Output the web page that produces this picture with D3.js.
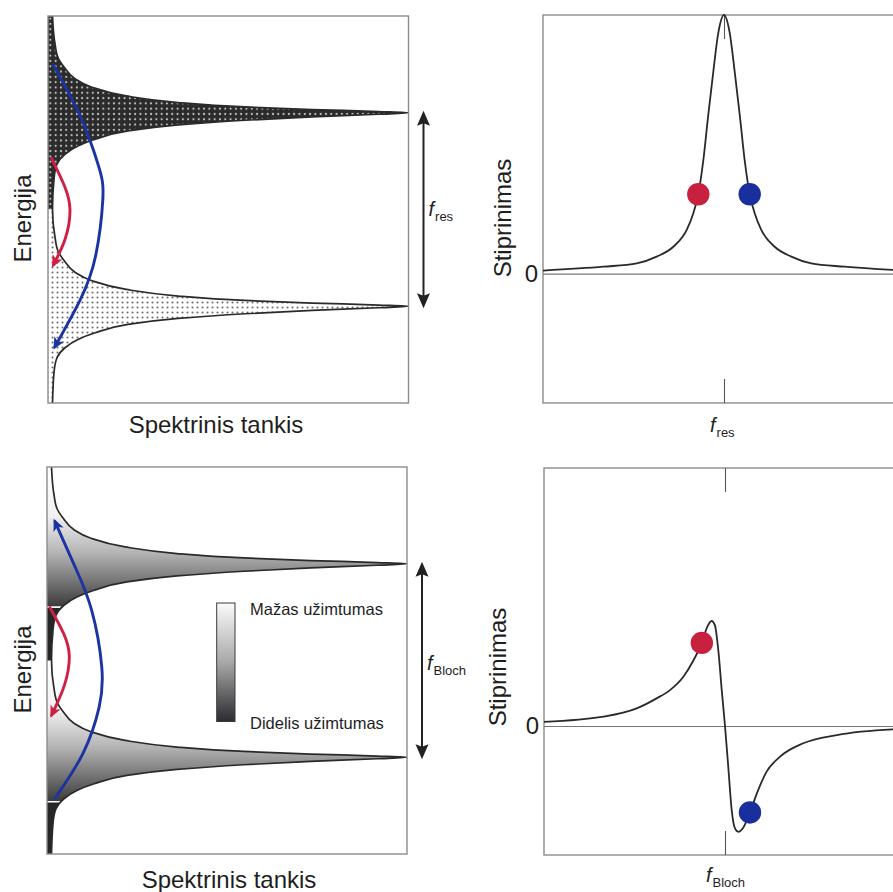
<!DOCTYPE html>
<html>
<head>
<meta charset="utf-8">
<script src="https://cdn.jsdelivr.net/npm/d3@7"></script>
<style>
  html, body { margin: 0; background: #fff; }
  svg { display: block; font-family: "Liberation Sans", Arial, Helvetica, sans-serif; }
</style>
</head>
<body>
<svg id="chart" width="893" height="892"></svg>
<script>
// ---------- data ----------
// Energy axis of the density-of-states panels: 0–100 (arbitrary units)
const bandCentres = [25, 75];
// One band of the density of states: energy offset from the band centre and relative density
const profileOffset  = [-25.0, -16.8, -13.31, -10.72, -8.58, -6.85, -4.70, -3.15, -1.94, -1.09, -0.39, 0,
                        0.31, 0.83, 1.50, 2.64, 4.34, 6.59, 8.79, 11.89, 14.21, 18.09, 25.0];
const profileDensity = [0.0125, 0.017, 0.025, 0.047, 0.083, 0.131, 0.222, 0.361, 0.547, 0.733, 0.917, 1.0,
                        0.917, 0.733, 0.547, 0.361, 0.217, 0.122, 0.075, 0.044, 0.028, 0.019, 0.0125];

// Occupation of the Bloch bands: top of each shaded range and the occupation edge below it
const occupationTop  = [50, 100];
const occupationEdge = [13.5, 63.8];
const occupationStops = [[0, "#ffffff"], [0.35, "#f1f1f1"], [0.62, "#b2b2b2"], [0.85, "#6a6a6a"], [1, "#3a3a3a"]];
const legendStops = [[0, "#fbfbfb"], [0.5, "#a8a8a8"], [1, "#2b2b30"]];

// Transitions drawn as curved arrows (relative density, energy)
const resRedDensity  = [0.010, 0.046, 0.061, 0.048, 0.015];
const resRedEnergy   = [63.2, 56.0, 49.9, 42.5, 35.7];
const resBlueDensity = [0.015, 0.090, 0.141, 0.152, 0.132, 0.089, 0.019];
const resBlueEnergy  = [87.3, 74.0, 61.0, 52.5, 38.0, 26.6, 14.5];
const blochRedDensity  = [0.008, 0.046, 0.062, 0.048, 0.013];
const blochRedEnergy   = [63.7, 57.0, 51.0, 43.5, 35.9];
const blochBlueDensity = [0.022, 0.100, 0.145, 0.152, 0.124, 0.078, 0.022];
const blochBlueEnergy  = [14.4, 26.0, 38.0, 48.5, 63.0, 74.2, 85.9];

// Gain spectra: detuning from the transition frequency (arbitrary units) and gain
const detuningRes = [-50, -33.3, -24.1, -18.6, -14.0, -10.3, -8.5, -7.1, -5.7, -4.4, -3.0, -1.6, 0,
                     1.6, 3.0, 4.4, 5.7, 7.1, 8.5, 10.3, 14.0, 18.6, 24.1, 33.3, 50];
const gainRes = [0.012, 0.027, 0.040, 0.066, 0.104, 0.169, 0.233, 0.307, 0.44, 0.607, 0.775, 0.929, 1.0,
                 0.929, 0.775, 0.607, 0.44, 0.307, 0.233, 0.169, 0.104, 0.066, 0.040, 0.027, 0.012];
const detuningBloch = [-50, -33.6, -24.4, -18.9, -15.2, -11.5, -8.7, -6.4, -4.9, -3.7, -2.8, -1.85, -0.9, 0,
                       0.9, 1.85, 2.76, 3.7, 4.9, 6.9, 8.8, 11.5, 15.2, 21.6, 30.9, 46.4, 50];
const gainBloch = [0.016, 0.036, 0.068, 0.107, 0.139, 0.191, 0.255, 0.322, 0.384, 0.407, 0.391, 0.294, 0.139, 0,
                   -0.158, -0.326, -0.397, -0.41, -0.397, -0.335, -0.261, -0.177, -0.119, -0.067, -0.035, -0.013, -0.011];
// Gain seen by the two transitions (red, blue)
const resDotDetuning = [-7.1, 7.1];
const resDotGain = [0.307, 0.307];
const blochDotDetuning = [-6.4, 6.9];
const blochDotGain = [0.322, -0.335];

// Text
const densityTitle = "Spektrinis tankis";
const energyTitle = "Energija";
const gainTitle = "Stiprinimas";
const legendLabels = ["Mažas užimtumas", "Didelis užimtumas"];

// ---------- styles ----------
const RED = "#cf1f45", BLUE = "#1b33a3";
const DOT_RED = "#c8203f", DOT_BLUE = "#1a2f9e";
const INK = "#1e1e1e", CURVE = "#2a2a2a", FRAME = "#8c8c8c";

const svg = d3.select("#chart");
const defs = svg.append("defs");

// arrowheads
function addMarker(id, color, len, half, notch) {
  defs.append("marker")
    .attr("id", id)
    .attr("markerUnits", "userSpaceOnUse")
    .attr("viewBox", `${-len - 2} ${-half - 1} ${len + 6} ${2 * half + 2}`)
    .attr("markerWidth", len + 6).attr("markerHeight", 2 * half + 2)
    .attr("refX", 0).attr("refY", 0)
    .attr("orient", "auto-start-reverse")
    .append("path")
    .attr("d", `M3,0 L${-len + 3},${-half} L${-len + 3 + notch},0 L${-len + 3},${half}Z`)
    .attr("fill", color);
}
addMarker("headBlack", "#222", 15, 6.5, 2.5);
addMarker("headRed", RED, 12, 5.5, 3);
addMarker("headBlue", BLUE, 12, 5.5, 3);

// dot textures for the density-of-states fills
const pDark = defs.append("pattern").attr("id", "dotsDark")
  .attr("patternUnits", "userSpaceOnUse").attr("width", 5.3).attr("height", 5.3);
pDark.append("rect").attr("width", 5.3).attr("height", 5.3).attr("fill", "#2b2b2b");
pDark.append("circle").attr("cx", 2.65).attr("cy", 2.65).attr("r", 1.05).attr("fill", "#c2c2c2");

const pLight = defs.append("pattern").attr("id", "dotsLight")
  .attr("patternUnits", "userSpaceOnUse").attr("width", 5).attr("height", 5);
pLight.append("rect").attr("width", 5).attr("height", 5).attr("fill", "#ffffff");
pLight.append("circle").attr("cx", 2.5).attr("cy", 2.5).attr("r", 1.05).attr("fill", "#6e6e6e");

// density of states built from the band profile
const dos = [];
bandCentres.forEach((c, i) => profileOffset.forEach((o, j) => {
  if (i > 0 && j === 0) return;
  dos.push({ E: c + o, d: profileDensity[j] });
}));
dos.sort((a, b) => b.E - a.E);

const zipPts = (ds, es) => ds.map((d, i) => ({ d, E: es[i] }));

let clipCount = 0;
function clipRange(y, eLow, eHigh) {
  const id = "clip" + (clipCount++);
  defs.append("clipPath").attr("id", id).append("rect")
    .attr("x", 0).attr("width", 893)
    .attr("y", y(eHigh)).attr("height", y(eLow) - y(eHigh));
  return `url(#${id})`;
}

function titleText(g, txt, x, y, rotate) {
  g.append("text")
    .attr("transform", `translate(${x},${y})` + (rotate ? " rotate(-90)" : ""))
    .attr("text-anchor", "middle")
    .attr("font-size", 24).attr("fill", INK)
    .text(txt);
}

function fLabel(g, x, y, sub) {
  const t = g.append("text").attr("fill", INK);
  t.append("tspan").attr("x", x).attr("y", y)
    .attr("font-style", "italic").attr("font-size", 20).text("f");
  t.append("tspan").attr("dx", 1).attr("dy", 5)
    .attr("font-size", 13).text(sub);
}

// ---------- density-of-states panels ----------
function dosPanel(cfg) {
  const g = svg.append("g");
  const x = d3.scaleLinear([0, 1], [cfg.left, cfg.right]);
  const y = d3.scaleLinear([0, 100], [cfg.bottom, cfg.top]);

  const area = d3.area().curve(d3.curveMonotoneY)
    .x0(x(0)).x1(d => x(d.d)).y(d => y(d.E));
  const line = d3.line().curve(d3.curveMonotoneY)
    .x(d => x(d.d)).y(d => y(d.E));

  cfg.fill(g, x, y, area);

  g.append("path").attr("d", line(dos))
    .attr("fill", "none").attr("stroke", CURVE).attr("stroke-width", 1.7);

  g.append("rect")
    .attr("x", cfg.left).attr("y", cfg.top)
    .attr("width", cfg.right - cfg.left).attr("height", cfg.bottom - cfg.top)
    .attr("fill", "none").attr("stroke", FRAME).attr("stroke-width", 1.4);

  // transitions
  const arc = d3.line().curve(d3.curveNatural)
    .x(d => x(d.d)).y(d => y(d.E));
  g.append("path").attr("d", arc(cfg.red))
    .attr("fill", "none").attr("stroke", RED).attr("stroke-width", 2.9)
    .attr("stroke-linecap", "round")
    .attr("marker-end", "url(#headRed)");
  g.append("path").attr("d", arc(cfg.blue))
    .attr("fill", "none").attr("stroke", BLUE).attr("stroke-width", 2.9)
    .attr("stroke-linecap", "round")
    .attr("marker-end", "url(#headBlue)");

  // splitting between the two bands
  const ax = cfg.right + 15;
  g.append("line")
    .attr("x1", ax).attr("x2", ax)
    .attr("y1", y(bandCentres[1]) + 1).attr("y2", y(bandCentres[0]) - 1)
    .attr("stroke", "#222").attr("stroke-width", 2)
    .attr("marker-start", "url(#headBlack)").attr("marker-end", "url(#headBlack)");
  fLabel(g, ax + 5, y(50) + cfg.fDy, cfg.fSub);

  titleText(g, densityTitle, cfg.xTitleX, cfg.xTitleY, false);
  titleText(g, energyTitle, 31, (cfg.top + cfg.bottom) / 2 + 9, true);
  return { g, x, y, area };
}

// resonant tunnelling: upper band filled, lower band nearly empty
dosPanel({
  left: 48, right: 408.5, top: 16, bottom: 403,
  fSub: "res", fDy: 6.5,
  xTitleX: 216, xTitleY: 433,
  red: zipPts(resRedDensity, resRedEnergy),
  blue: zipPts(resBlueDensity, resBlueEnergy),
  fill(g, x, y, area) {
    g.append("path").attr("d", area(dos)).attr("fill", "url(#dotsDark)")
      .attr("clip-path", clipRange(y, 50, 100));
    g.append("path").attr("d", area(dos)).attr("fill", "url(#dotsLight)")
      .attr("clip-path", clipRange(y, 0, 50));
  }
});

// Bloch oscillation: identical occupation in every band
const lower = dosPanel({
  left: 47, right: 407, top: 467, bottom: 854,
  fSub: "Bloch", fDy: 9,
  xTitleX: 229, xTitleY: 888,
  red: zipPts(blochRedDensity, blochRedEnergy),
  blue: zipPts(blochBlueDensity, blochBlueEnergy),
  fill(g, x, y, area) {
    const shapeId = "dosShape";
    defs.append("clipPath").attr("id", shapeId).append("path").attr("d", area(dos));
    occupationTop.forEach((top, i) => {
      const edge = occupationEdge[i];
      const gid = "occ" + i;
      const grad = defs.append("linearGradient").attr("id", gid)
        .attr("gradientUnits", "userSpaceOnUse")
        .attr("x1", 0).attr("x2", 0).attr("y1", y(top)).attr("y2", y(edge));
      occupationStops.forEach(s => grad.append("stop").attr("offset", s[0]).attr("stop-color", s[1]));
      g.append("path").attr("d", area(dos)).attr("fill", `url(#${gid})`)
        .attr("clip-path", clipRange(y, edge, top));
      const below = i === 0 ? 0 : occupationTop[i - 1];
      g.append("path").attr("d", area(dos)).attr("fill", "#262626")
        .attr("clip-path", clipRange(y, below, edge));
      g.append("g").attr("clip-path", `url(#${shapeId})`)
        .append("line")
        .attr("x1", x(0)).attr("x2", x(0.2)).attr("y1", y(edge)).attr("y2", y(edge))
        .attr("stroke", "#fff").attr("stroke-width", 1.6);
    });
  }
});

// occupation legend
{
  const g = lower.g;
  const lg = defs.append("linearGradient").attr("id", "legendGrad")
    .attr("x1", 0).attr("x2", 0).attr("y1", 0).attr("y2", 1);
  legendStops.forEach(s => lg.append("stop").attr("offset", s[0]).attr("stop-color", s[1]));
  g.append("rect").attr("x", 216.7).attr("y", 603).attr("width", 18.3).attr("height", 118.5)
    .attr("fill", "url(#legendGrad)").attr("stroke", "#3a3a3a").attr("stroke-width", 1);
  g.append("text").attr("x", 250).attr("y", 614.5).attr("font-size", 16.5).attr("fill", INK).text(legendLabels[0]);
  g.append("text").attr("x", 250).attr("y", 729).attr("font-size", 16.5).attr("fill", INK).text(legendLabels[1]);
}

// ---------- gain panels ----------
function gainPanel(cfg) {
  const g = svg.append("g");
  const x = d3.scaleLinear([-50, 50], [cfg.left, cfg.right]);
  const y = d3.scaleLinear([-0.5, 1], [cfg.bottom, cfg.top]);

  g.append("rect")
    .attr("x", cfg.left).attr("y", cfg.top)
    .attr("width", cfg.right - cfg.left).attr("height", cfg.bottom - cfg.top)
    .attr("fill", "none").attr("stroke", FRAME).attr("stroke-width", 1.4);

  // zero gain line and its label
  const yAxis = g.append("g").attr("transform", `translate(${cfg.left},0)`)
    .call(d3.axisLeft(y).tickValues([0]).tickFormat(d3.format("d"))
      .tickSizeInner(-(cfg.right - cfg.left)).tickSizeOuter(0).tickPadding(5));
  yAxis.select(".domain").remove();
  yAxis.selectAll(".tick line").attr("stroke", "#777").attr("stroke-width", 1.2);
  yAxis.selectAll(".tick text").attr("font-size", 24).attr("fill", INK)
    .attr("font-family", "Liberation Sans, Arial, sans-serif");

  // transition-frequency ticks
  const bAxis = g.append("g").attr("transform", `translate(0,${cfg.bottom})`)
    .call(d3.axisBottom(x).tickValues([0]).tickSizeInner(-24).tickSizeOuter(0).tickFormat(""));
  const tAxis = g.append("g").attr("transform", `translate(0,${cfg.top})`)
    .call(d3.axisTop(x).tickValues([0]).tickSizeInner(-24).tickSizeOuter(0).tickFormat(""));
  [bAxis, tAxis].forEach(a => {
    a.select(".domain").remove();
    a.selectAll(".tick line").attr("stroke", "#555").attr("stroke-width", 1.1);
  });

  const line = d3.line().curve(d3.curveMonotoneX).x(d => x(d.u)).y(d => y(d.v));
  g.append("path").attr("d", line(cfg.u.map((u, i) => ({ u, v: cfg.v[i] }))))
    .attr("fill", "none").attr("stroke", CURVE).attr("stroke-width", 1.8);

  g.selectAll("circle.dot").data(cfg.dotU).join("circle").attr("class", "dot")
    .attr("cx", d => x(d)).attr("cy", (d, i) => y(cfg.dotV[i])).attr("r", 11.2)
    .attr("fill", (d, i) => i === 0 ? DOT_RED : DOT_BLUE);

  fLabel(g, x(0) + cfg.fDx, cfg.fY, cfg.fSub);
  titleText(g, gainTitle, cfg.titleX, cfg.titleY, true);
}

gainPanel({
  left: 543, right: 905, top: 15, bottom: 403,
  u: detuningRes, v: gainRes, dotU: resDotDetuning, dotV: resDotGain,
  fSub: "res", fDx: -14, fY: 431.5,
  titleX: 511, titleY: 218
});

gainPanel({
  left: 544, right: 906, top: 468, bottom: 855,
  u: detuningBloch, v: gainBloch, dotU: blochDotDetuning, dotV: blochDotGain,
  fSub: "Bloch", fDx: -19, fY: 882,
  titleX: 506, titleY: 667
});
</script>
</body>
</html>
